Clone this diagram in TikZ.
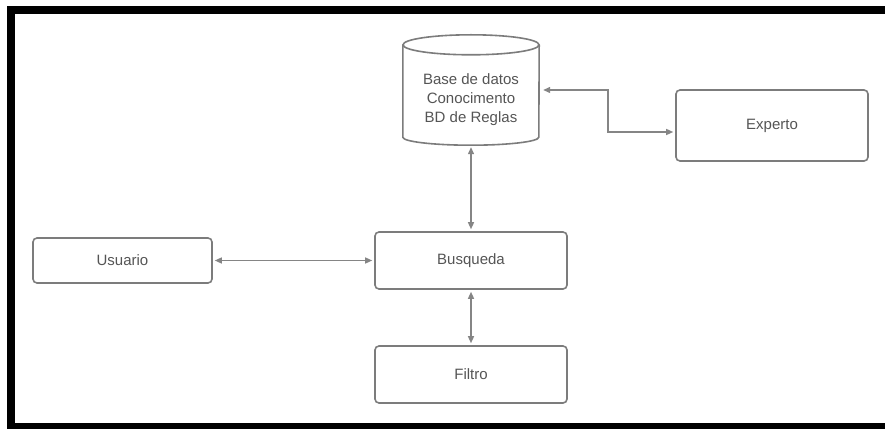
\documentclass[tikz,border=0pt]{standalone}
\usepackage{fontspec}
\setmainfont{Liberation Sans}
\usetikzlibrary{arrows.meta}
\definecolor{edgegray}{HTML}{7C7C7C}
\definecolor{linkgray}{HTML}{858585}
\definecolor{labelgray}{HTML}{555555}
\begin{document}
\begin{tikzpicture}[x=1pt,y=1pt,
  box/.style={draw=edgegray, line width=1.6pt, rounded corners=4pt, fill=white,
    inner sep=0pt, font=\fontsize{15}{19}\selectfont, text=labelgray},
  link/.style={draw=linkgray, line width=1.3pt,
    {Triangle[length=7pt,width=6pt]}-{Triangle[length=7pt,width=6pt]},
    shorten <=2pt, shorten >=2pt},
  dblabel/.style={align=center, font=\fontsize{15}{19}\selectfont, text=labelgray}]
  % page and frame
  \useasboundingbox (0,0) rectangle (885,429);
  \fill[white] (0,0) rectangle (885,429);
  \fill[black] (7,415) rectangle (885,423);
  \fill[black] (7,0) rectangle (15,423);
  \fill[black] (7,0) rectangle (885,6);

  % database cylinder
  \node[minimum width=136pt, minimum height=110pt, inner sep=0pt] (db) at (471,339) {};
  \draw[edgegray, line width=1.6pt, fill=white]
    ([yshift=-10pt]db.north west) -- ([yshift=8pt]db.south west)
    arc[start angle=180, end angle=360, x radius=68pt, y radius=8pt]
    -- ([yshift=-10pt]db.north east);
  \draw[edgegray, line width=1.6pt] ([yshift=-10pt]db.north) ellipse[x radius=68pt, y radius=10pt];
  \node[dblabel] (dbtext) at (471,329) {Base de datos\\Conocimento\\BD de Reglas};

  % boxes
  \node[box, minimum width=192pt, minimum height=71pt] (experto) at (772,303.5) {Experto};
  \node[box, minimum width=179pt, minimum height=45pt] (usuario) at (122.5,168.5) {Usuario};
  \node[box, minimum width=192pt, minimum height=57pt] (busqueda) at (471,168.5) {Busqueda};
  \node[box, minimum width=192pt, minimum height=57pt] (filtro) at (471,54.5) {Filtro};

  % connectors
  \coordinate (bend) at (608,339);
  \draw[link] ([xshift=2pt]db.east) -- (bend) |- ([yshift=-6.5pt]experto.west);
  \draw[link] (db.south) -- (busqueda.north);
  \draw[link] (usuario.east) -- (busqueda.west);
  \draw[link] (busqueda.south) -- (filtro.north);
\end{tikzpicture}
\end{document}
